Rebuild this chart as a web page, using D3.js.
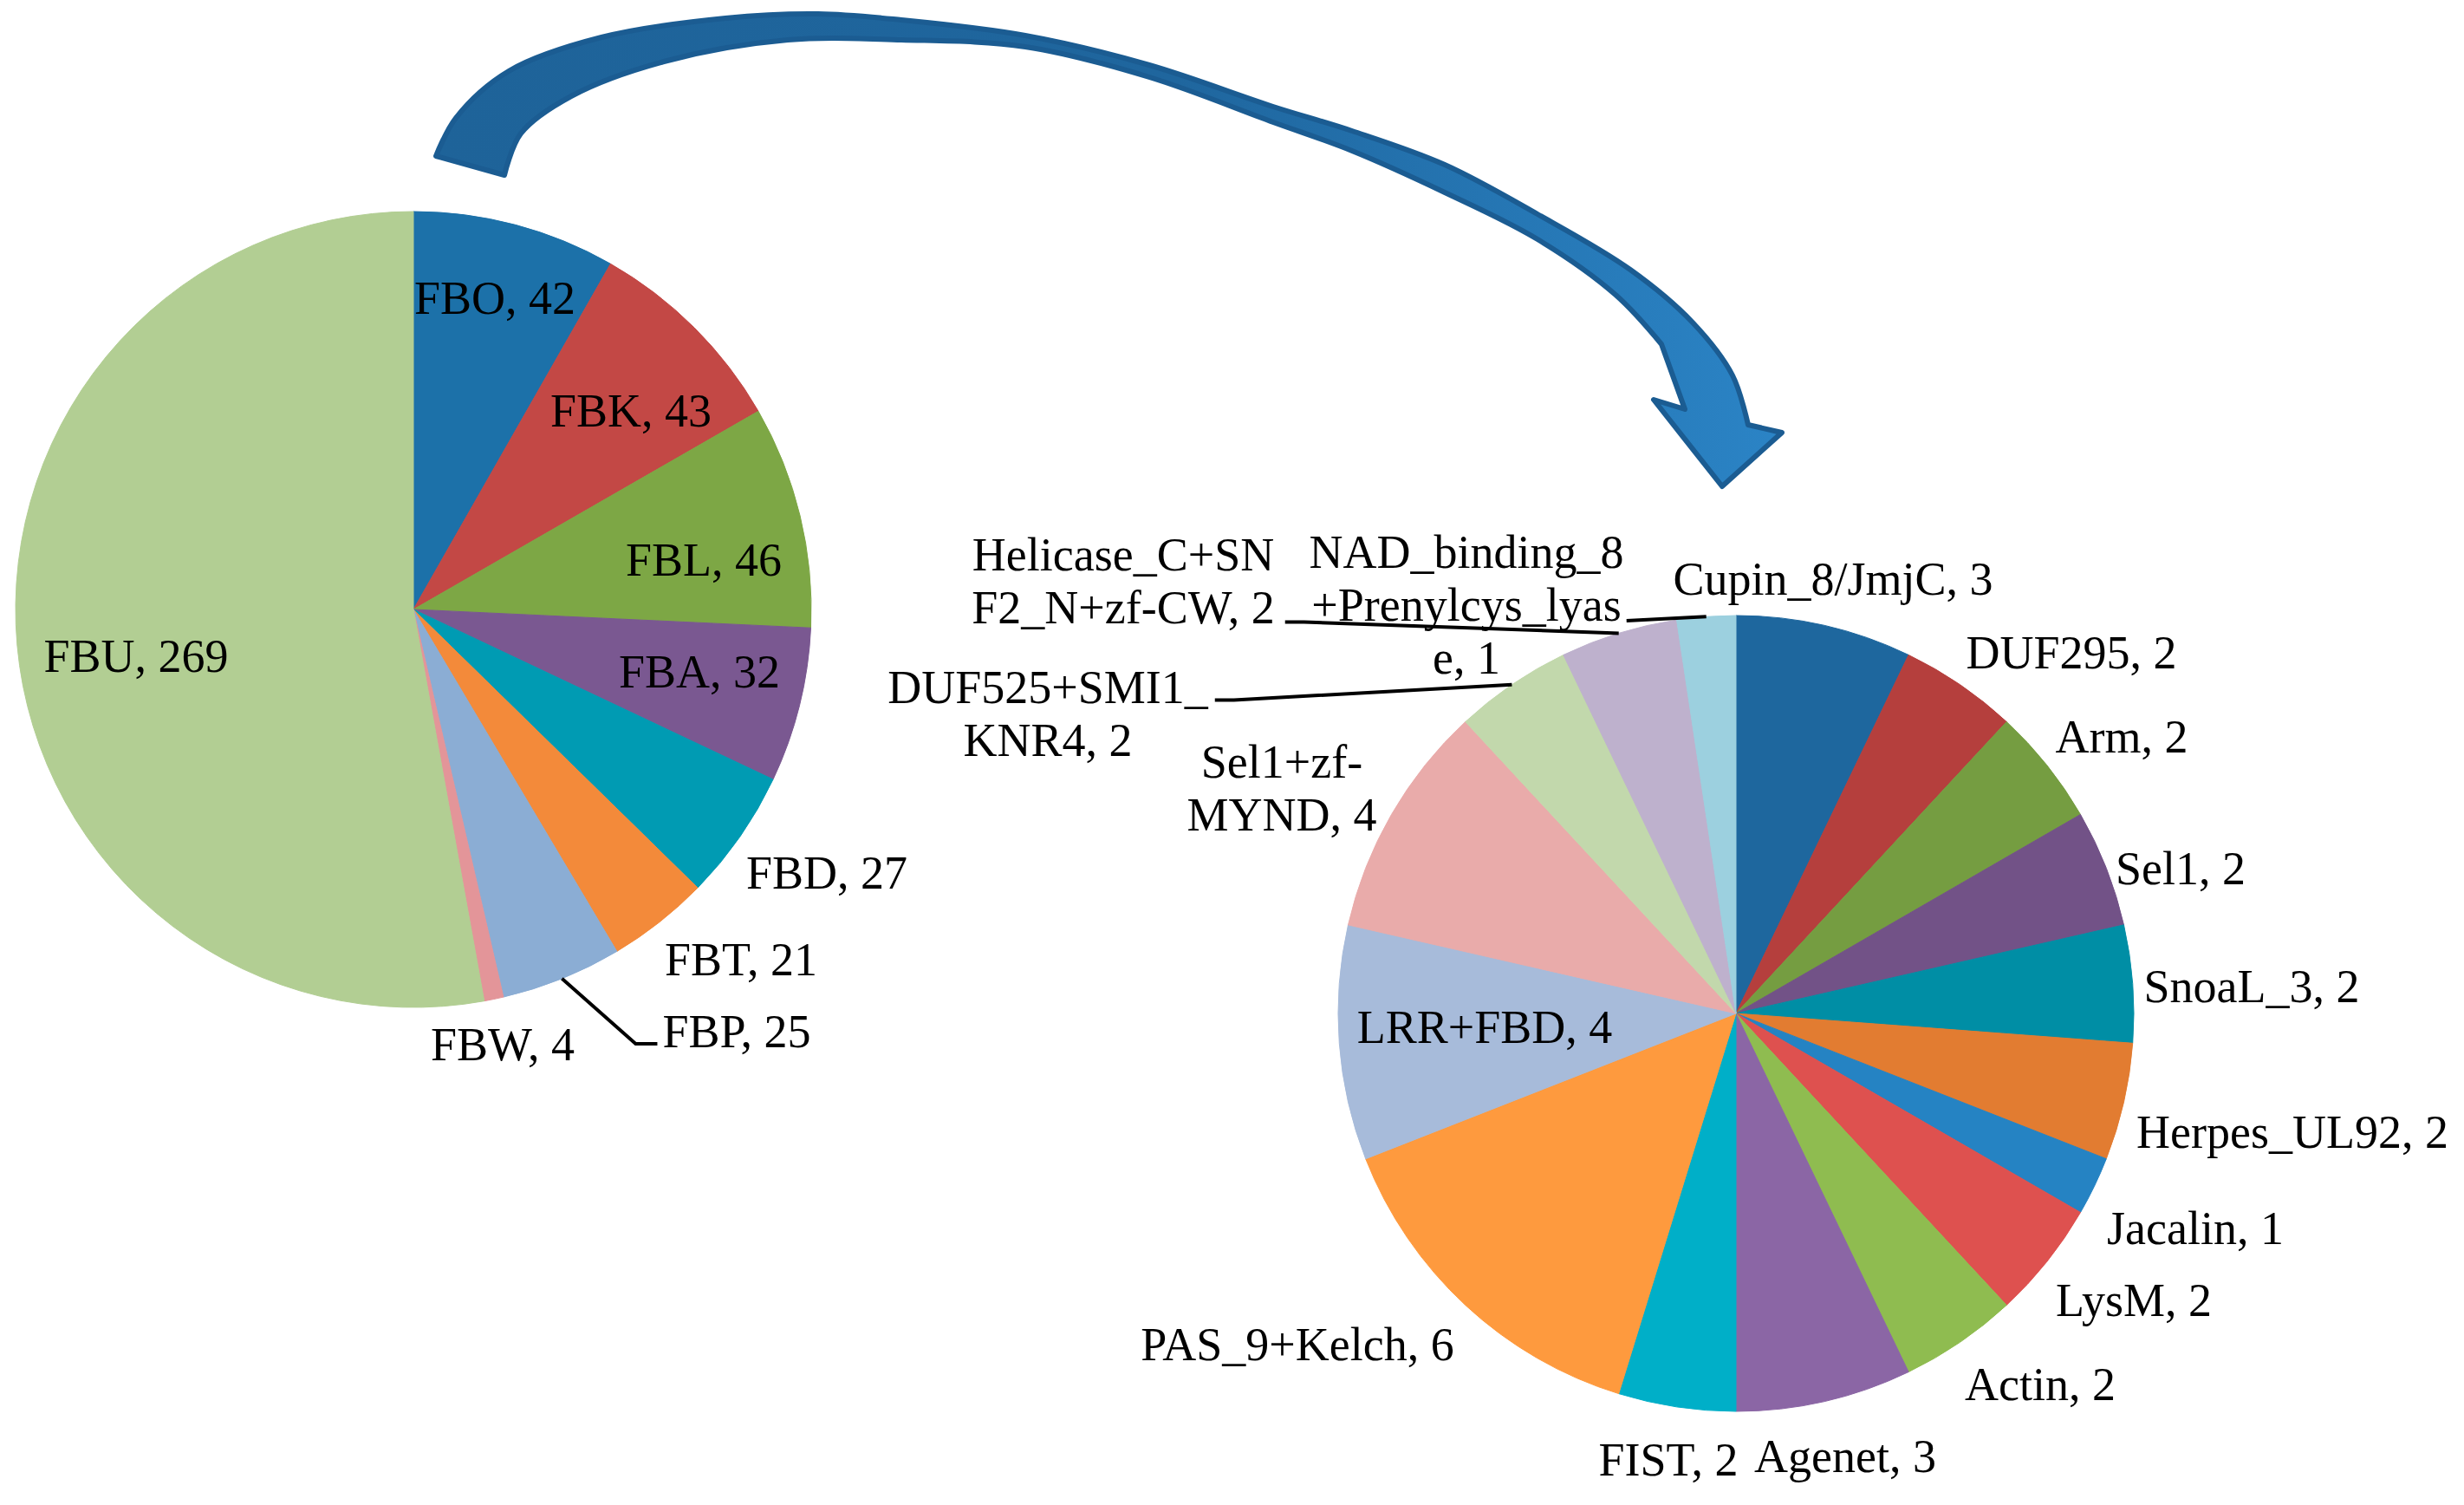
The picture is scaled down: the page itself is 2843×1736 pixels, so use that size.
<!DOCTYPE html>
<html><head><meta charset="utf-8">
<script src="https://cdn.jsdelivr.net/npm/d3@7"></script>
<style>html,body{margin:0;padding:0;background:#fff;} svg{display:block;}</style>
</head><body>
<svg id="chart" width="2843" height="1736"></svg>
<script>
// ---------------- DATA ----------------
const fbCategories = ["FBO", "FBK", "FBL", "FBA", "FBD", "FBT", "FBP", "FBW", "FBU"];
const fbValues     = [42, 43, 46, 32, 27, 21, 25, 4, 269];

const fboCategories = ["Cupin_8/JmjC", "DUF295", "Arm", "Sel1", "SnoaL_3", "Herpes_UL92", "Jacalin",
  "LysM", "Actin", "Agenet", "FIST", "PAS_9+Kelch", "LRR+FBD", "Sel1+zf-MYND", "DUF525+SMI1_KNR4",
  "Helicase_C+SNF2_N+zf-CW", "NAD_binding_8+Prenylcys_lyase"];
const fboValues = [3, 2, 2, 2, 2, 2, 1, 2, 2, 3, 2, 6, 4, 4, 2, 2, 1];

// ---------------- STYLE / LAYOUT ----------------
const fbColors = ["#1C71A9", "#C34845", "#7DA745", "#7A5891", "#009BB3", "#F38A3A", "#8BADD4", "#E39599", "#B2CE93"];
const fboColors = ["#1E679E", "#B53F3D", "#759D41", "#725287", "#008EA5", "#E27C31", "#2583C3", "#DE514F",
  "#8FBC50", "#8B66A5", "#00AFC8", "#FE9A3E", "#A7BBDA", "#E9ABAA", "#C2D8AC", "#BEB1CD", "#9CD0DF"];

const W = 2843, H = 1736;
const leftPie  = {cx: 477,  cy: 703,  r: 459};
const rightPie = {cx: 2003, cy: 1169, r: 459};
const fontSize = 54, lineHeight = 61;
const fontFamily = "'Liberation Serif','Times New Roman',Times,serif";

// label centre offsets from pie centre (px)
const fbLabelOffsets = [[94,-360],[251,-230],[335,-58],[330,71],[477,303],[378,403],[373,486],[103,501],[-320,53]];
const fboLabelOffsets = [[112,-502],[387,-417],[445,-320],[513,-168],[595,-32],[642,136],[530,247],[459,330],
  [351,427],[126,510],[-78,514],[-506,381],[-290,15],[-524,-260],[-794,-346],[-707,-499],[-311,-472]];
// line breaks (character counts) of wrapped labels
const fboBreaks = {"Sel1+zf-MYND": [8], "DUF525+SMI1_KNR4": [12], "Helicase_C+SNF2_N+zf-CW": [13],
  "NAD_binding_8+Prenylcys_lyase": [13, 28]};
// leader lines
const fbLeaders = {"FBP": {side: "left", line: 0, dy: 15, gap: 6, elbow: 25}};
const fboLeaders = {
  "Helicase_C+SNF2_N+zf-CW": {side: "right", line: 1, dy: 17, gap: 12, flat: 22},
  "NAD_binding_8+Prenylcys_lyase": {side: "right", line: 1, dy: 19, gap: 6, flat: 0},
  "DUF525+SMI1_KNR4": {side: "right", line: 0, dy: 15, gap: 8, flat: 22}
};

// decorative curved arrow outline
const arrowOuter = [[503,180],[526,136],[587,82],[694,43],[837,21],[944,16],[1040,23],[1183,41],[1326,75],
  [1469,123],[1560,151],[1667,190],[1774,247],[1881,311],[1953,372],[1999,433],[2017,490]];
const arrowHead = [[2056,499],[1987,561],[1908,461],[1944,472]];
const arrowInner = [[1917,397],[1864,340],[1774,276],[1667,222],[1560,174],[1469,141],[1326,89],[1183,54],
  [1040,46],[909,46],[766,71],[659,111],[601,154],[582,202]];

// ---------------- DRAW ----------------
const svg = d3.select("#chart");
svg.append("rect").attr("width", W).attr("height", H).attr("fill", "#fff");

const defs = svg.append("defs");
const grad = defs.append("linearGradient").attr("id", "arrowGrad")
  .attr("gradientUnits", "userSpaceOnUse").attr("x1", 500).attr("y1", 0).attr("x2", 2060).attr("y2", 0);
grad.append("stop").attr("offset", "0%").attr("stop-color", "#1E6399");
grad.append("stop").attr("offset", "55%").attr("stop-color", "#1F669E");
grad.append("stop").attr("offset", "100%").attr("stop-color", "#2B84C6");

// arrow
const curveLine = d3.line().curve(d3.curveCatmullRom.alpha(0.5));
let arrowD = curveLine(arrowOuter);
arrowHead.forEach(p => { arrowD += "L" + p[0] + "," + p[1]; });
arrowD += curveLine(arrowInner).replace(/^M/, "L") + "Z";
svg.append("path").attr("d", arrowD)
  .attr("fill", "url(#arrowGrad)").attr("stroke", "#1B5C92").attr("stroke-width", 6)
  .attr("stroke-linejoin", "round");

function drawPie(pos, cats, vals, colors, offsets, breaks, leaders) {
  const g = svg.append("g").attr("transform", `translate(${pos.cx},${pos.cy})`);
  const pie = d3.pie().sort(null).value(d => d.v).startAngle(0).endAngle(2 * Math.PI);
  const data = cats.map((c, i) => ({c, v: vals[i], i}));
  const arcs = pie(data);
  const arc = d3.arc().innerRadius(0).outerRadius(pos.r);
  g.selectAll("path.slice").data(arcs).join("path").attr("class", "slice")
    .attr("d", arc).attr("fill", d => colors[d.data.i])
    .attr("stroke", d => colors[d.data.i]).attr("stroke-width", 1);

  arcs.forEach(a => {
    const d = a.data;
    const full = `${d.c}, ${d.v}`;
    const br = breaks[d.c] || [];
    const lines = [];
    let prev = 0;
    br.forEach(b => { lines.push(full.slice(prev, b)); prev = b; });
    lines.push(full.slice(prev));
    const [ox, oy] = offsets[d.i];
    const y0 = oy - (lines.length - 1) * lineHeight / 2;
    const t = g.append("text").attr("text-anchor", "middle")
      .attr("font-family", fontFamily).attr("font-size", fontSize).attr("fill", "#000");
    const spans = lines.map((ln, k) => t.append("tspan").attr("x", ox).attr("y", y0 + k * lineHeight)
      .attr("dy", "0.35em").text(ln));
    const L = leaders[d.c];
    if (L) {
      const mid = (a.startAngle + a.endAngle) / 2;
      const ex = pos.r * Math.sin(mid), ey = -pos.r * Math.cos(mid);
      const w = spans[L.line].node().getComputedTextLength();
      const ly = y0 + L.line * lineHeight + L.dy;
      let pts;
      if (L.side === "left") {
        const ax = ox - w / 2 - L.gap;
        pts = [[ex, ey], [ax - L.elbow, ly], [ax, ly]];
      } else {
        const ax = ox + w / 2 + L.gap;
        pts = [[ax, ly], [ax + L.flat, ly], [ex, ey]];
      }
      g.append("path").attr("d", d3.line()(pts)).attr("fill", "none")
        .attr("stroke", "#000").attr("stroke-width", 4);
    }
  });
}

drawPie(leftPie, fbCategories, fbValues, fbColors, fbLabelOffsets, {}, fbLeaders);
drawPie(rightPie, fboCategories, fboValues, fboColors, fboLabelOffsets, fboBreaks, fboLeaders);
</script>
</body></html>
